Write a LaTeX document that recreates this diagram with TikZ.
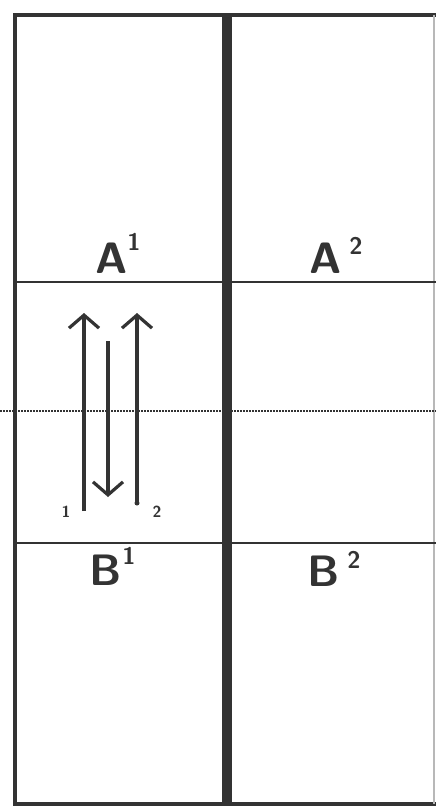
\documentclass[tikz,border=0pt]{standalone}
\usetikzlibrary{arrows.meta}
\definecolor{ink}{HTML}{333333}
\begin{document}
\begin{tikzpicture}[x=1pt,y=-1pt,
  frame/.style={draw=ink,line width=4pt},
  divider/.style={draw=ink,line width=1.8pt},
  midwall/.style={draw=ink,line width=10pt},
  dotline/.style={draw=ink,line width=2.2pt,dash pattern=on 2pt off 1pt},
  vec/.style={draw=ink,line width=3.2pt,-{Straight Barb[length=13pt,width=30pt,line width=3.2pt]}},
  lab/.style={font=\sffamily\fontsize{44}{44}\selectfont,text=ink,inner sep=0pt},
  sup/.style={font=\sffamily\fontsize{24}{24}\selectfont,text=ink,inner sep=0pt},
  small/.style={font=\sffamily\bfseries\fontsize{16}{16}\selectfont,text=ink,inner sep=0pt}]
\useasboundingbox (0,0) rectangle (436,808);
\fill[white] (0,0) rectangle (436,808);
% frame
\coordinate (TL) at (15,15);
\coordinate (TR) at (436,15);
\coordinate (BL) at (15,804);
\coordinate (BR) at (436,804);
\draw[frame] (TR) -- (TL) -- (BL) -- (BR);
\coordinate (rt) at (434,15); \coordinate (rb) at (434,804);
\draw[draw=ink!35,line width=1.2pt] (rt) -- (rb);
% dividers
\coordinate (h1l) at (15,282); \coordinate (h1r) at (436,282);
\coordinate (h2l) at (15,543); \coordinate (h2r) at (436,543);
\draw[divider] (h1l) -- (h1r);
\draw[divider] (h2l) -- (h2r);
\coordinate (dl) at (0,411); \coordinate (dr) at (436,411);
\draw[dotline] (dl) -- (dr);
\coordinate (wt) at (227,15); \coordinate (wb) at (227,804);
\draw[midwall] (wt) -- (wb);
% labels
\node[lab] (A1) at (112,258) {\bfseries A};
\node[sup] (A1s) at (134,242) {\bfseries 1};
\node[lab] (A2) at (326,258) {\bfseries A};
\node[sup] (A2s) at (356,246) {\bfseries 2};
\node[lab] (B1) at (106,570) {\bfseries B};
\node[sup] (B1s) at (129,556) {\bfseries 1};
\node[lab] (B2) at (324,571) {\bfseries B};
\node[sup] (B2s) at (354,560) {\bfseries 2};
% arrows
\coordinate (a1s) at (84,511); \coordinate (a1e) at (84,313);
\coordinate (a2s) at (108,341); \coordinate (a2e) at (108,497);
\coordinate (a3s) at (137,503); \coordinate (a3e) at (137,313);
\draw[vec] (a1s) -- (a1e);
\draw[vec] (a2s) -- (a2e);
\draw[vec] (a3s) -- (a3e);
\fill[ink] (a3s) circle (2.5pt);
\node[small] (n1) at (66,512) {1};
\node[small] (n2) at (157,512) {2};
\end{tikzpicture}
\end{document}
